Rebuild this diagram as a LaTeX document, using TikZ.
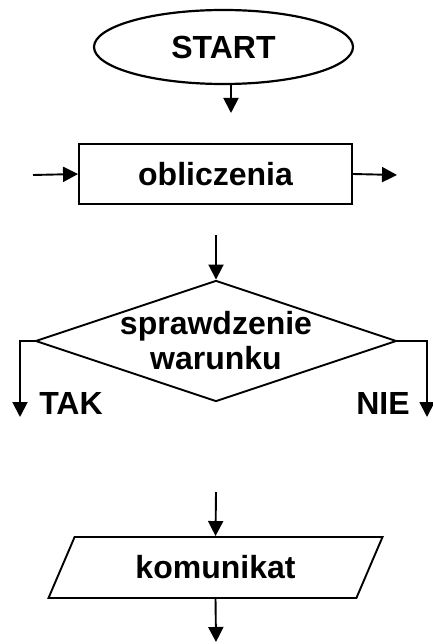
\documentclass[tikz,border=0pt]{standalone}
\usepackage{fontspec}
\setmainfont{Liberation Sans}
\usetikzlibrary{shapes.geometric,arrows.meta}
\tikzset{
  txt/.style={font=\fontsize{32}{35}\selectfont\bfseries},
  startstop/.style={ellipse, draw, txt, line width=2.2pt, minimum width=259pt, minimum height=74pt, inner sep=0pt},
  process/.style={rectangle, draw, txt, minimum width=273pt, minimum height=60pt, inner sep=0pt},
  decision/.style={diamond, draw, minimum width=361pt, minimum height=121pt, inner sep=0pt},
  inout/.style={trapezium, trapezium left angle=42, trapezium right angle=138, draw, txt,
    trapezium stretches body, minimum width=334pt, minimum height=61pt, inner sep=0pt}
}
\begin{document}
\begin{tikzpicture}[x=1pt, y=-1pt, >={Triangle[length=15pt,width=15pt]}, line width=1.9pt]
        \useasboundingbox (0,0) rectangle (432,644);
        % bloki
        \node[startstop] (start) at (223.5,47) {START};
        \node[process] (calc) at (215.5,174) {obliczenia};
        \node[decision, label={[txt, align=center]center:{sprawdzenie\\warunku}}] (cond) at (216,341) {};
        \node[inout] (msg) at (215.5,567.5) {komunikat};
        \node[txt] (yes) at (71,403) {TAK};
        \node[txt] (no) at (383,403) {NIE};
        % wolne konce strzalek
        \coordinate (s1) at (231,113);
        \coordinate (in1) at (33,175);
        \coordinate (out1) at (397,175);
        \coordinate (in2) at (216,235);
        \coordinate (yesend) at (20,417);
        \coordinate (noend) at (427,417);
        \coordinate (in3) at (216,492);
        \coordinate (out3) at (216,642);
        % strzalki
        \draw [->] (s1 |- start.south) -- (s1);
        \draw [->] (in1) -- (calc.west);
        \draw [->] (calc.east) -- (out1);
        \draw [->] (in2) -- (cond.north);
        \draw [->] (cond.west) -| (yesend);
        \draw [->] (cond.east) -| (noend);
        \draw [->] (in3) -- (msg.north);
        \draw [->] (msg.south) -- (out3);
    \end{tikzpicture}
\end{document}
